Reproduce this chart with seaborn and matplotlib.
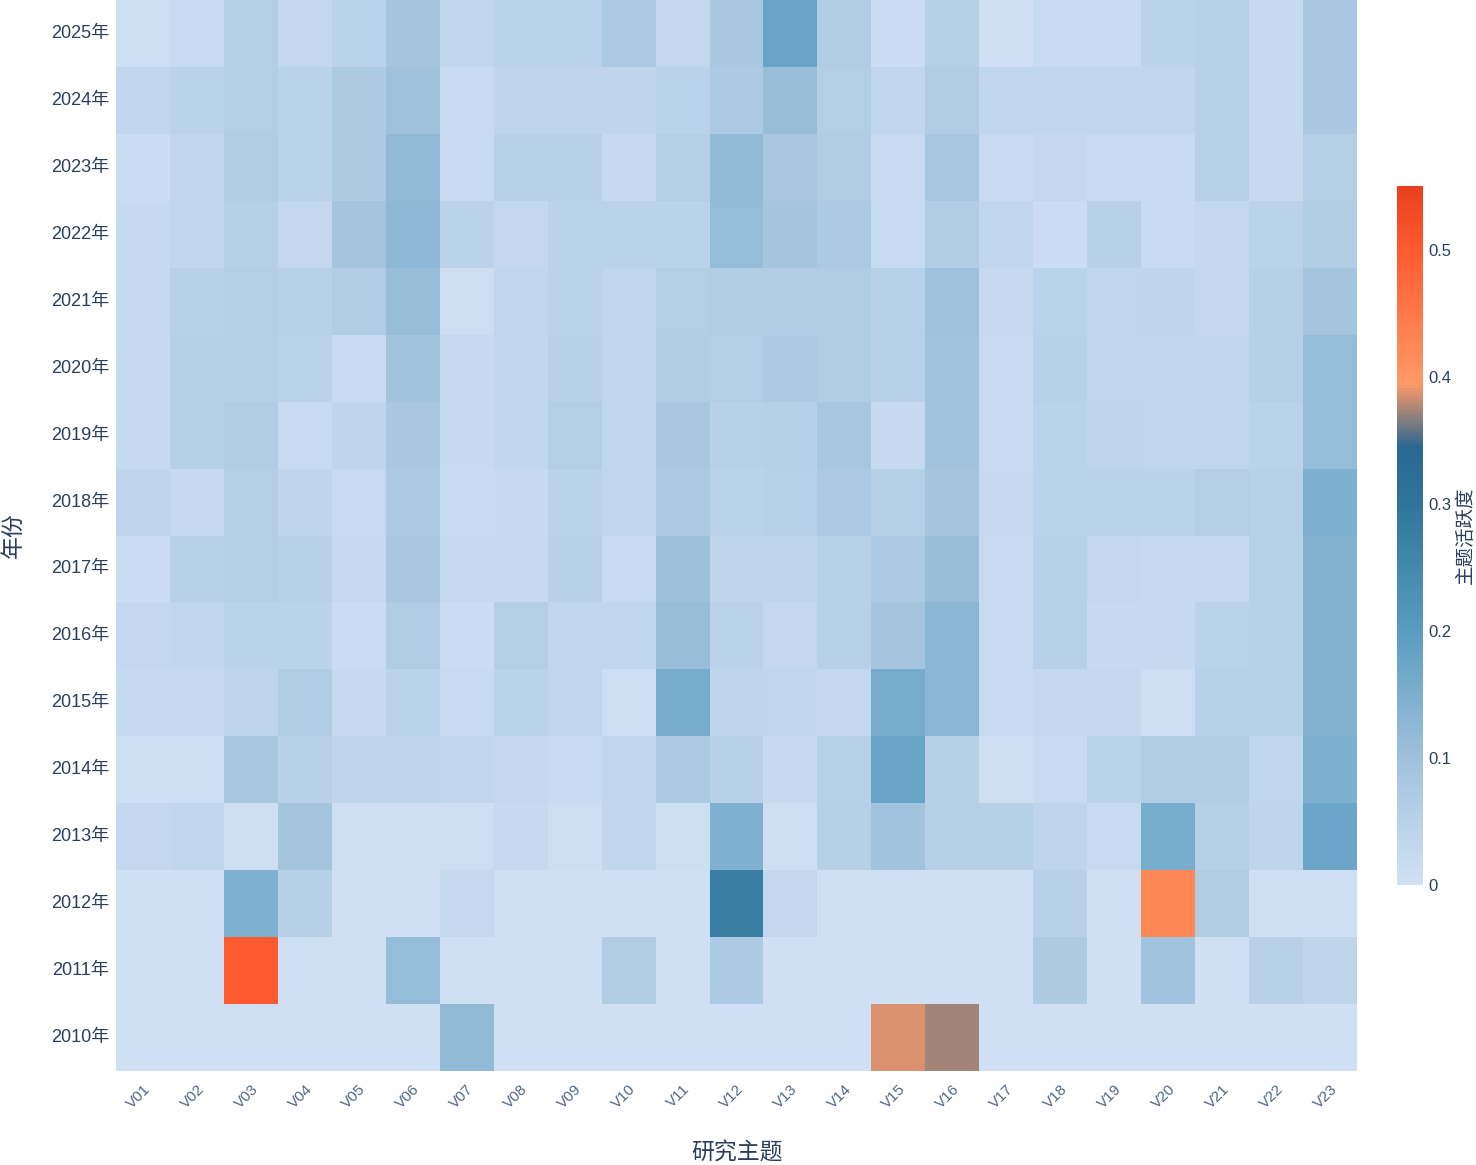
import numpy as np
import pandas as pd
import matplotlib
matplotlib.use("Agg")
import matplotlib.pyplot as plt
import seaborn as sns
from matplotlib.colors import LinearSegmentedColormap

sns.set_style("white")
plt.rcParams['font.family'] = ['Liberation Sans', 'Noto Sans CJK SC', 'DejaVu Sans']

years = [f"{y}年" for y in range(2010, 2026)]
topics = [f"V{i:02d}" for i in range(1, 24)]

# 主题活跃度, one row per year (2010 -> 2025), columns V01..V23
activity = [
    [0.005, 0.005, 0.005, 0.005, 0.005, 0.005, 0.120, 0.005, 0.005, 0.005, 0.005, 0.005, 0.005, 0.005, 0.386, 0.372, 0.005, 0.005, 0.005, 0.005, 0.005, 0.005, 0.005],  # 2010
    [0.005, 0.005, 0.500, 0.005, 0.005, 0.115, 0.005, 0.005, 0.005, 0.065, 0.005, 0.075, 0.005, 0.005, 0.005, 0.005, 0.005, 0.070, 0.005, 0.095, 0.005, 0.050, 0.040],  # 2011
    [0.005, 0.005, 0.145, 0.055, 0.005, 0.005, 0.025, 0.005, 0.005, 0.005, 0.005, 0.275, 0.030, 0.005, 0.005, 0.005, 0.005, 0.050, 0.005, 0.424, 0.065, 0.005, 0.005],  # 2012
    [0.030, 0.035, 0.012, 0.090, 0.008, 0.008, 0.012, 0.025, 0.012, 0.035, 0.012, 0.145, 0.008, 0.055, 0.095, 0.055, 0.055, 0.040, 0.020, 0.155, 0.055, 0.040, 0.175],  # 2013
    [0.012, 0.012, 0.085, 0.050, 0.040, 0.040, 0.035, 0.030, 0.020, 0.035, 0.075, 0.050, 0.025, 0.050, 0.180, 0.055, 0.012, 0.020, 0.045, 0.065, 0.065, 0.035, 0.150],  # 2014
    [0.025, 0.025, 0.040, 0.065, 0.025, 0.045, 0.020, 0.045, 0.035, 0.012, 0.160, 0.040, 0.035, 0.030, 0.160, 0.130, 0.020, 0.030, 0.030, 0.012, 0.050, 0.050, 0.140],  # 2015
    [0.030, 0.035, 0.045, 0.045, 0.015, 0.065, 0.015, 0.060, 0.035, 0.035, 0.110, 0.045, 0.030, 0.050, 0.090, 0.130, 0.020, 0.050, 0.025, 0.025, 0.045, 0.050, 0.140],  # 2016
    [0.015, 0.050, 0.060, 0.050, 0.025, 0.080, 0.025, 0.025, 0.050, 0.020, 0.105, 0.040, 0.040, 0.050, 0.075, 0.110, 0.020, 0.050, 0.030, 0.025, 0.025, 0.050, 0.140],  # 2017
    [0.040, 0.025, 0.060, 0.040, 0.020, 0.075, 0.020, 0.025, 0.045, 0.035, 0.075, 0.045, 0.050, 0.075, 0.055, 0.090, 0.025, 0.045, 0.045, 0.045, 0.060, 0.050, 0.150],  # 2018
    [0.025, 0.055, 0.065, 0.020, 0.040, 0.080, 0.025, 0.035, 0.060, 0.035, 0.080, 0.050, 0.055, 0.085, 0.025, 0.095, 0.020, 0.045, 0.040, 0.035, 0.035, 0.045, 0.115],  # 2019
    [0.025, 0.055, 0.055, 0.045, 0.020, 0.095, 0.025, 0.035, 0.050, 0.035, 0.065, 0.060, 0.075, 0.065, 0.050, 0.095, 0.020, 0.050, 0.035, 0.035, 0.035, 0.055, 0.115],  # 2020
    [0.025, 0.050, 0.060, 0.050, 0.065, 0.110, 0.010, 0.035, 0.045, 0.035, 0.060, 0.065, 0.065, 0.065, 0.050, 0.100, 0.025, 0.045, 0.035, 0.040, 0.030, 0.055, 0.090],  # 2021
    [0.025, 0.035, 0.055, 0.030, 0.090, 0.125, 0.045, 0.030, 0.045, 0.045, 0.045, 0.115, 0.090, 0.075, 0.020, 0.065, 0.035, 0.015, 0.050, 0.020, 0.030, 0.045, 0.065],  # 2022
    [0.015, 0.035, 0.065, 0.045, 0.070, 0.120, 0.020, 0.050, 0.050, 0.025, 0.060, 0.120, 0.080, 0.065, 0.020, 0.085, 0.020, 0.030, 0.020, 0.020, 0.050, 0.025, 0.060],  # 2023
    [0.035, 0.045, 0.060, 0.045, 0.070, 0.100, 0.020, 0.040, 0.040, 0.040, 0.045, 0.075, 0.110, 0.060, 0.035, 0.065, 0.035, 0.035, 0.035, 0.035, 0.050, 0.025, 0.080],  # 2024
    [0.012, 0.020, 0.060, 0.030, 0.045, 0.090, 0.035, 0.045, 0.045, 0.075, 0.030, 0.080, 0.180, 0.065, 0.015, 0.055, 0.005, 0.020, 0.020, 0.045, 0.050, 0.025, 0.080],  # 2025
]

df = pd.DataFrame(activity, index=years, columns=topics).iloc[::-1]

vmax = 0.55
stops = [
    (0.0, "#d1e1f5"),
    (0.1 / vmax, "#9fc1dc"),
    (0.2 / vmax, "#5a9cc0"),
    (0.3 / vmax, "#30749b"),
    (0.345 / vmax, "#2a6892"),
    (0.395 / vmax, "#ff9a66"),
    (0.5 / vmax, "#ff5a30"),
    (1.0, "#e8401c"),
]
cmap = LinearSegmentedColormap.from_list("activity", stops)

W, H = 1476, 1165
fig = plt.figure(figsize=(W / 100, H / 100), dpi=100)
ax = fig.add_axes([116 / W, 1 - 1071 / H, (1357 - 116) / W, 1071 / H])
cax = fig.add_axes([1397 / W, 1 - 885 / H, 26 / W, (885 - 186) / H])

sns.heatmap(df, ax=ax, cmap=cmap, vmin=0, vmax=vmax, cbar_ax=cax,
            cbar_kws={"ticks": [0, 0.1, 0.2, 0.3, 0.4, 0.5]})

text_color = "#2a3f5f"
ax.set_xlabel("研究主题", fontsize=16.5, color=text_color)
ax.set_ylabel("年份", fontsize=16.5, color=text_color)
ax.xaxis.set_label_coords(0.5, -(1153 - 1071) / 1071, transform=ax.transAxes)
ax.yaxis.set_label_coords(-(116 - 13) / 1241, 0.5, transform=ax.transAxes)
ax.xaxis.label.set_va("center")
ax.yaxis.label.set_va("center")
ax.tick_params(axis="y", length=0, pad=5, labelsize=13, labelcolor=text_color)
ax.tick_params(axis="x", length=0, pad=8, labelsize=11, labelcolor="#506784")
plt.setp(ax.get_yticklabels(), rotation=0)
plt.setp(ax.get_xticklabels(), rotation=45, ha="right", rotation_mode="anchor")

cbar = ax.collections[0].colorbar
cbar.outline.set_visible(False)
cbar.ax.tick_params(length=0, pad=4, labelsize=12, labelcolor=text_color)
cbar.ax.set_yticklabels(["0", "0.1", "0.2", "0.3", "0.4", "0.5"])
cbar.set_label("主题活跃度", fontsize=14, color=text_color)
cax.yaxis.set_label_coords((1466 - 1397) / 26, 0.5, transform=cax.transAxes)
cax.yaxis.label.set_va("center")

fig.savefig("out.png", dpi=100)
